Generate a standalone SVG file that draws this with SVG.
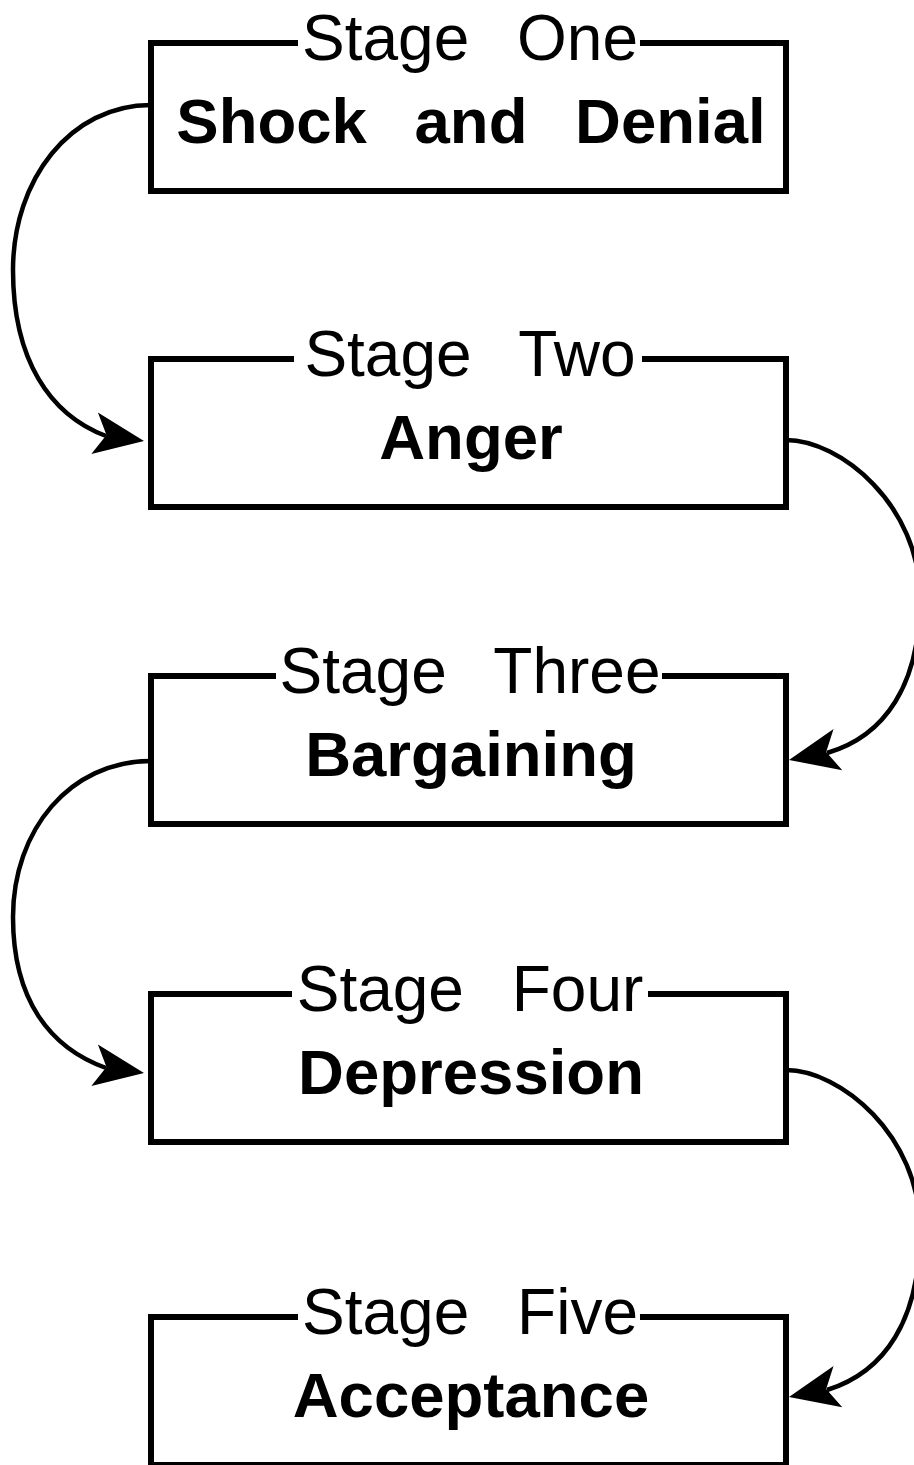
<svg xmlns="http://www.w3.org/2000/svg" xmlns:xlink="http://www.w3.org/1999/xlink" width="914" height="1465" viewBox="0 0 914 1465">
  <style>
    .frame { fill: none; stroke: #000000; stroke-width: 6; stroke-linejoin: miter; }
    .title { font-family: "Liberation Sans", Arial, Helvetica, sans-serif; font-size: 64px; fill: #000000; text-anchor: middle; word-spacing: 30px; }
    .name { font-family: "Liberation Sans", Arial, Helvetica, sans-serif; font-size: 63.5px; font-weight: bold; fill: #000000; text-anchor: middle; word-spacing: 30px; }
    .edge { fill: none; stroke: #000000; stroke-width: 4.5; }
    .head { fill: #000000; stroke: none; }
  </style>
  <defs>
    <!-- arrowhead with its tip at the origin, pointing along +x -->
    <path id="arrowhead" d="M0,0 L-50,-21 L-38,0 L-50,21 Z"/>
  </defs>

  <rect x="0" y="0" width="914" height="1465" fill="#ffffff"/>

  <!-- stage boxes: the top edge is broken where the stage caption sits -->
  <g id="stage-one">
    <path class="frame" d="M298,43 H151 V191 H786 V43 H640"/>
    <text class="title" x="470" y="60">Stage One</text>
    <text class="name" x="471" y="143">Shock and Denial</text>
  </g>

  <g id="stage-two">
    <path class="frame" d="M294,359 H151 V507 H786 V359 H642"/>
    <text class="title" x="470" y="376">Stage Two</text>
    <text class="name" x="471" y="459">Anger</text>
  </g>

  <g id="stage-three">
    <path class="frame" d="M276,676 H151 V824 H786 V676 H662"/>
    <text class="title" x="470" y="693">Stage Three</text>
    <text class="name" x="471" y="776">Bargaining</text>
  </g>

  <g id="stage-four">
    <path class="frame" d="M292,994 H151 V1142 H786 V994 H648"/>
    <text class="title" x="470" y="1011">Stage Four</text>
    <text class="name" x="471" y="1094">Depression</text>
  </g>

  <g id="stage-five">
    <path class="frame" d="M298,1317 H151 V1465 H786 V1317 H640"/>
    <text class="title" x="470" y="1334">Stage Five</text>
    <text class="name" x="471" y="1417">Acceptance</text>
  </g>

  <!-- curved connectors between consecutive stages -->
  <g id="connectors">
    <path class="edge" d="M151,105 C70,105 13,180 13,270 C13,360 50,415 106,436"/>
    <use xlink:href="#arrowhead" class="head" transform="translate(144,441) rotate(9)"/>

    <path class="edge" d="M786,440 C840,440 920,505 920,598 C920,685 885,736 827,753"/>
    <use xlink:href="#arrowhead" class="head" transform="translate(789,760) rotate(168)"/>

    <path class="edge" d="M151,761 C70,761 13,830 13,917 C13,1000 50,1048 106,1068"/>
    <use xlink:href="#arrowhead" class="head" transform="translate(144,1073) rotate(9)"/>

    <path class="edge" d="M786,1070 C840,1070 920,1135 920,1230 C920,1320 885,1372 827,1390"/>
    <use xlink:href="#arrowhead" class="head" transform="translate(789,1397) rotate(168)"/>
  </g>
</svg>
